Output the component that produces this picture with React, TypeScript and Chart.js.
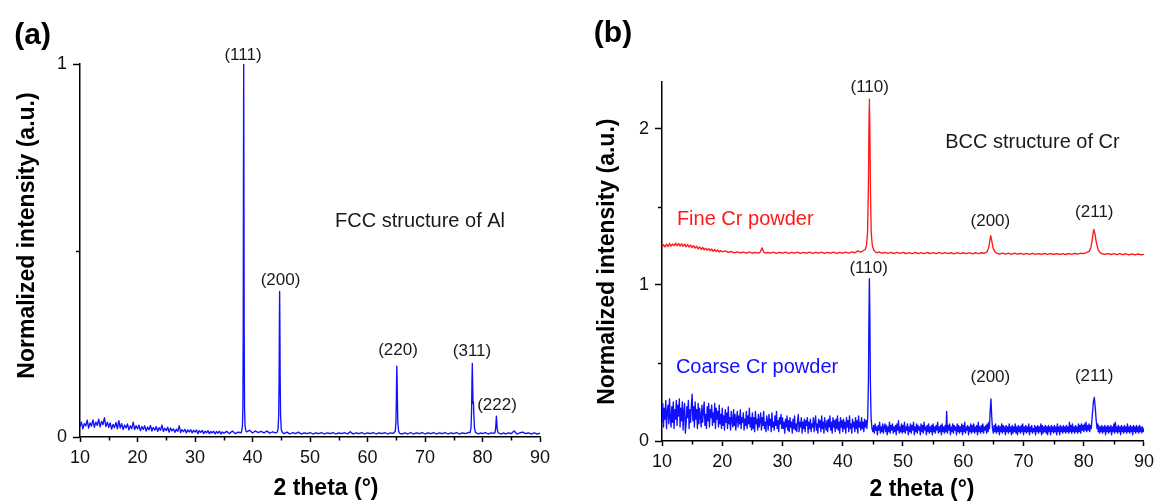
import React, { useEffect, useRef } from 'react';
import { Chart, registerables } from 'chart.js';

Chart.register(...registerables);

type Pt = [number, number];

const FONT = '"Liberation Sans", Arial, Helvetica, sans-serif';

// ---------------- DATA ----------------
const xMajorTicks = [10, 20, 30, 40, 50, 60, 70, 80, 90];
const xMinorTicks = [15, 25, 35, 45, 55, 65, 75, 85];
const alYTicks = [0, 1];
const alYMinor = [0.5];
const crYTicks = [0, 1, 2];
const crYMinor = [0.5, 1.5];

// (a) Al pattern: [2theta, normalized intensity]
const alPattern: Pt[] = [
  [10,.028],[10.25,.04],[10.5,.022],[10.75,.036],[11,.03],[11.25,.045],[11.5,.024],[11.75,.038],[12,.029],[12.25,.046],
  [12.5,.026],[12.75,.04],[13,.031],[13.25,.048],[13.5,.027],[13.75,.042],[14,.033],[14.25,.052],[14.5,.028],[14.75,.04],
  [15,.026],[15.25,.038],[15.5,.021],[15.75,.034],[16,.025],[16.25,.039],[16.5,.022],[16.75,.044],[17,.024],[17.25,.036],
  [17.5,.02],[17.75,.032],[18,.024],[18.25,.035],[18.5,.019],[18.75,.03],[19,.022],[19.25,.04],[19.5,.02],[19.75,.031],
  [20,.021],[20.25,.032],[20.5,.017],[20.75,.028],[21,.02],[21.25,.03],[21.5,.016],[21.75,.027],[22,.019],[22.25,.031],
  [22.5,.016],[22.75,.026],[23,.018],[23.25,.028],[23.5,.015],[23.75,.025],[24,.018],[24.25,.032],[24.5,.015],[24.75,.024],
  [25,.017],[25.25,.026],[25.5,.013],[25.75,.024],[26,.016],[26.25,.022],[26.5,.012],[26.75,.021],[27,.015],[27.25,.03],
  [27.5,.012],[27.75,.02],[28,.014],[28.25,.021],[28.5,.011],[28.75,.019],[29,.013],[29.25,.02],[29.5,.011],[29.75,.018],
  [30,.013],[30.25,.019],[30.5,.009],[30.75,.017],[31,.012],[31.25,.018],[31.5,.009],[31.75,.016],[32,.011],[32.25,.017],
  [32.5,.009],[32.75,.015],[33,.011],[33.25,.016],[33.5,.008],[33.75,.015],[34,.01],[34.25,.016],[34.5,.008],[34.75,.014],
  [35,.01],[35.5,.015],[36,.009],[36.5,.016],[37,.009],[37.5,.013],[38,.011],
  [38.12,.016],[38.25,.03],[38.33,.08],[38.39,.3],[38.43,.7],[38.47,1.0],[38.51,.7],[38.55,.3],[38.61,.08],[38.7,.03],[38.85,.016],
  [39,.014],[39.5,.018],[40,.011],[40.5,.016],[41,.012],[41.5,.015],[42,.011],[42.5,.016],[43,.01],[43.5,.014],[44,.011],[44.3,.013],
  [44.45,.022],[44.56,.06],[44.63,.16],[44.68,.31],[44.72,.39],[44.76,.31],[44.81,.16],[44.88,.06],[45.0,.02],
  [45.2,.012],[45.5,.009],[46,.013],[46.5,.008],[47,.012],[47.5,.009],[48,.013],[48.5,.008],[49,.011],[49.5,.009],
  [50,.012],[50.5,.008],[51,.011],[51.5,.009],[52,.012],[52.5,.008],[53,.011],[53.5,.009],[54,.012],[54.5,.008],
  [55,.011],[55.5,.009],[56,.012],[56.5,.008],[57,.014],[57.5,.008],[58,.011],[58.5,.009],[59,.012],[59.5,.008],
  [60,.011],[60.5,.009],[61,.012],[61.5,.008],[62,.011],[62.5,.009],[63,.012],[63.5,.008],[64,.011],[64.5,.01],
  [64.82,.015],[64.95,.04],[65.02,.1],[65.07,.16],[65.1,.19],[65.14,.16],[65.2,.1],[65.27,.04],[65.4,.016],
  [65.6,.01],[66,.008],[66.5,.011],[67,.008],[67.5,.012],[68,.008],[68.5,.011],[69,.009],[69.5,.012],[70,.008],
  [70.5,.011],[71,.009],[71.5,.012],[72,.008],[72.5,.011],[73,.009],[73.5,.012],[74,.008],[74.5,.011],[75,.009],
  [75.5,.012],[76,.008],[76.5,.011],[77,.009],[77.5,.012],[77.85,.012],
  [78.0,.025],[78.1,.07],[78.17,.15],[78.23,.197],[78.29,.14],[78.35,.09],[78.42,.095],[78.5,.06],[78.6,.025],[78.75,.013],
  [78.9,.011],[79.3,.008],[79.7,.011],[80,.009],[80.5,.012],[81,.008],[81.5,.011],[82,.01],[82.2,.013],
  [82.3,.025],[82.37,.045],[82.42,.056],[82.48,.042],[82.56,.022],[82.7,.012],
  [82.9,.01],[83.3,.008],[83.7,.011],[84,.008],[84.5,.011],[85,.009],[85.5,.016],[86,.008],[86.5,.011],[87,.013],
  [87.5,.009],[88,.011],[88.5,.008],[89,.011],[89.5,.008],[90,.01],
];

// (b) Fine Cr powder (offset pattern)
const fineCrPattern: Pt[] = [
  [10,1.24],[10.25,1.258],[10.5,1.243],[10.75,1.262],[11,1.245],[11.25,1.265],[11.5,1.248],[11.75,1.262],[12,1.25],[12.25,1.268],
  [12.5,1.25],[12.75,1.266],[13,1.248],[13.25,1.264],[13.5,1.246],[13.75,1.262],[14,1.244],[14.25,1.26],[14.5,1.242],[14.75,1.256],
  [15,1.238],[15.25,1.252],[15.5,1.235],[15.75,1.248],[16,1.23],[16.25,1.244],[16.5,1.227],[16.75,1.24],[17,1.224],[17.25,1.236],
  [17.5,1.221],[17.75,1.233],[18,1.218],[18.25,1.23],[18.5,1.215],[18.75,1.227],[19,1.213],[19.25,1.224],[19.5,1.211],[19.75,1.221],
  [20,1.212],[20.5,1.218],[21,1.208],[21.5,1.214],[22,1.206],[22.5,1.212],[23,1.205],[23.5,1.21],[24,1.204],[24.5,1.211],
  [25,1.203],[25.5,1.209],[26,1.204],[26.3,1.21],[26.6,1.238],[26.9,1.21],[27.2,1.204],[27.5,1.209],[28,1.203],[28.5,1.21],
  [29,1.202],[29.5,1.209],[30,1.203],[30.5,1.21],[31,1.202],[31.5,1.209],[32,1.203],[32.5,1.21],[33,1.202],[33.5,1.208],
  [34,1.203],[34.5,1.21],[35,1.202],[35.5,1.209],[36,1.203],[36.5,1.21],[37,1.202],[37.5,1.208],[38,1.203],[38.5,1.21],
  [39,1.202],[39.5,1.209],[40,1.203],[40.5,1.21],[41,1.204],[41.5,1.211],[42,1.206],[42.5,1.218],[43,1.21],[43.5,1.222],
  [43.75,1.228],[43.95,1.255],[44.12,1.34],[44.25,1.6],[44.35,2.0],[44.42,2.19],[44.5,2.0],[44.6,1.6],[44.72,1.34],[44.9,1.255],[45.15,1.222],
  [45.4,1.212],[45.7,1.206],[46,1.211],[46.5,1.203],[47,1.209],[47.5,1.202],[48,1.208],[48.5,1.201],[49,1.209],[49.5,1.202],
  [50,1.208],[50.5,1.201],[51,1.207],[51.5,1.2],[52,1.208],[52.5,1.201],[53,1.207],[53.5,1.2],[54,1.208],[54.5,1.201],
  [55,1.207],[55.5,1.2],[56,1.208],[56.5,1.2],[57,1.207],[57.5,1.2],[58,1.206],[58.5,1.199],[59,1.207],[59.5,1.2],
  [60,1.206],[60.5,1.2],[61,1.207],[61.5,1.199],[62,1.206],[62.5,1.2],[63,1.206],[63.5,1.203],[63.9,1.21],
  [64.2,1.235],[64.42,1.285],[64.55,1.315],[64.7,1.29],[64.95,1.235],[65.3,1.21],
  [65.6,1.203],[66,1.198],[66.5,1.204],[67,1.197],[67.5,1.203],[68,1.196],[68.5,1.203],[69,1.197],[69.5,1.202],[70,1.196],
  [70.5,1.202],[71,1.195],[71.5,1.202],[72,1.196],[72.5,1.201],[73,1.195],[73.5,1.202],[74,1.196],[74.5,1.201],[75,1.195],
  [75.5,1.201],[76,1.195],[76.5,1.2],[77,1.195],[77.5,1.201],[78,1.196],[78.5,1.202],[79,1.197],[79.5,1.203],[80,1.2],
  [80.5,1.208],[80.9,1.215],
  [81.2,1.24],[81.45,1.3],[81.65,1.355],[81.85,1.33],[82.1,1.27],[82.4,1.225],[82.7,1.208],
  [83,1.2],[83.5,1.196],[84,1.201],[84.5,1.195],[85,1.2],[85.5,1.194],[86,1.2],[86.5,1.194],[87,1.199],[87.5,1.193],
  [88,1.199],[88.5,1.193],[89,1.198],[89.5,1.193],[90,1.196],
];

// (b) Coarse Cr powder
const coarseCrPattern: Pt[] = [
  [10,.12],[10.125,.24],[10.25,.09],[10.375,.21],[10.5,.14],[10.625,.26],[10.75,.08],[10.875,.19],
  [11,.23],[11.125,.11],[11.25,.27],[11.375,.15],[11.5,.09],[11.625,.22],[11.75,.12],[11.875,.25],
  [12,.08],[12.125,.20],[12.25,.14],[12.375,.26],[12.5,.10],[12.625,.23],[12.75,.16],[12.875,.27],
  [13,.09],[13.125,.21],[13.25,.13],[13.375,.25],[13.5,.07],[13.625,.19],[13.75,.24],[13.875,.05],
  [14,.11],[14.125,.22],[14.25,.15],[14.375,.26],[14.5,.08],[14.625,.20],[14.75,.12],[14.875,.23],
  [15,.30],[15.125,.13],[15.25,.22],[15.375,.09],[15.5,.25],[15.625,.14],[15.75,.20],[15.875,.08],
  [16,.24],[16.125,.11],[16.25,.21],[16.375,.16],[16.5,.09],[16.625,.23],[16.75,.12],[16.875,.19],
  [17,.25],[17.125,.10],[17.25,.17],[17.375,.08],[17.5,.22],[17.625,.13],[17.75,.24],[17.875,.09],
  [18,.20],[18.125,.15],[18.25,.23],[18.375,.10],[18.5,.18],[18.625,.12],[18.75,.24],[18.875,.08],
  [19,.21],[19.125,.14],[19.25,.19],[19.375,.09],[19.5,.23],[19.625,.11],[19.75,.17],[19.875,.08],
  [20,.21],[20.125,.10],[20.25,.16],[20.375,.07],[20.5,.20],[20.625,.12],[20.75,.18],[20.875,.08],
  [21,.22],[21.125,.11],[21.25,.15],[21.375,.07],[21.5,.19],[21.625,.13],[21.75,.09],[21.875,.20],
  [22,.10],[22.125,.17],[22.25,.07],[22.375,.14],[22.5,.19],[22.625,.09],[22.75,.16],[22.875,.11],
  [23,.20],[23.125,.08],[23.25,.15],[23.375,.12],[23.5,.18],[23.625,.07],[23.75,.14],[23.875,.10],
  [24,.19],[24.125,.08],[24.25,.16],[24.375,.11],[24.5,.21],[24.625,.09],[24.75,.15],[24.875,.07],
  [25,.18],[25.125,.08],[25.25,.15],[25.375,.06],[25.5,.19],[25.625,.11],[25.75,.14],[25.875,.07],
  [26,.17],[26.125,.09],[26.25,.13],[26.375,.18],[26.5,.07],[26.625,.15],[26.75,.10],[26.875,.19],
  [27,.08],[27.125,.12],[27.25,.06],[27.375,.16],[27.5,.13],[27.625,.07],[27.75,.17],[27.875,.10],
  [28,.14],[28.125,.06],[28.25,.18],[28.375,.09],[28.5,.12],[28.625,.07],[28.75,.16],[28.875,.10],
  [29,.19],[29.125,.08],[29.25,.13],[29.375,.06],[29.5,.15],[29.625,.11],[29.75,.17],[29.875,.08],
  [30,.15],[30.125,.08],[30.25,.12],[30.375,.05],[30.5,.14],[30.625,.09],[30.75,.16],[30.875,.07],
  [31,.13],[31.125,.06],[31.25,.15],[31.375,.09],[31.5,.12],[31.625,.05],[31.75,.14],[31.875,.08],
  [32,.16],[32.125,.07],[32.25,.11],[32.375,.06],[32.5,.13],[32.625,.17],[32.75,.06],[32.875,.12],
  [33,.09],[33.125,.15],[33.25,.05],[33.375,.12],[33.5,.08],[33.625,.14],[33.75,.06],[33.875,.13],
  [34,.10],[34.125,.15],[34.25,.05],[34.375,.12],[34.5,.08],[34.625,.14],[34.75,.06],[34.875,.11],
  [35,.09],[35.125,.15],[35.25,.06],[35.375,.12],[35.5,.16],[35.625,.07],[35.75,.11],[35.875,.05],
  [36,.14],[36.125,.09],[36.25,.13],[36.375,.06],[36.5,.16],[36.625,.08],[36.75,.12],[36.875,.05],
  [37,.15],[37.125,.10],[37.25,.07],[37.375,.13],[37.5,.06],[37.625,.14],[37.75,.09],[37.875,.16],
  [38,.07],[38.125,.12],[38.25,.05],[38.375,.15],[38.5,.09],[38.625,.13],[38.75,.06],[38.875,.14],
  [39,.08],[39.125,.16],[39.25,.07],[39.375,.12],[39.5,.05],[39.625,.15],[39.75,.09],[39.875,.13],
  [40,.06],[40.125,.14],[40.25,.08],[40.375,.12],[40.5,.05],[40.625,.15],[40.75,.09],[40.875,.13],
  [41,.06],[41.125,.16],[41.25,.08],[41.375,.11],[41.5,.05],[41.625,.14],[41.75,.09],[41.875,.12],
  [42,.06],[42.125,.15],[42.25,.08],[42.375,.13],[42.5,.05],[42.625,.16],[42.75,.09],[42.875,.12],
  [43,.07],[43.125,.15],[43.25,.08],[43.375,.12],[43.5,.06],[43.625,.14],[43.75,.09],[43.875,.13],[44,.08],
  [44.15,.16],[44.27,.4],[44.35,.8],[44.42,1.04],[44.5,.8],[44.58,.4],[44.7,.15],[44.85,.08],
  [45,.06],[45.125,.10],[45.25,.05],[45.375,.11],[45.5,.07],[45.625,.09],[45.75,.04],[45.875,.10],
  [46,.07],[46.125,.12],[46.25,.05],[46.375,.09],[46.5,.06],[46.625,.11],[46.75,.05],[46.875,.09],
  [47,.11],[47.125,.06],[47.25,.10],[47.375,.04],[47.5,.09],[47.625,.06],[47.75,.12],[47.875,.05],
  [48,.10],[48.125,.07],[48.25,.11],[48.375,.05],[48.5,.09],[48.625,.06],[48.75,.10],[48.875,.04],
  [49,.11],[49.125,.07],[49.25,.13],[49.375,.05],[49.5,.09],[49.625,.06],[49.75,.11],[49.875,.05],
  [50,.10],[50.125,.06],[50.25,.12],[50.375,.05],[50.5,.09],[50.625,.07],[50.75,.11],[50.875,.04],
  [51,.09],[51.125,.06],[51.25,.11],[51.375,.05],[51.5,.10],[51.625,.07],[51.75,.12],[51.875,.04],
  [52,.09],[52.125,.06],[52.25,.11],[52.375,.05],[52.5,.10],[52.625,.07],[52.75,.09],[52.875,.04],
  [53,.11],[53.125,.06],[53.25,.10],[53.375,.05],[53.5,.12],[53.625,.07],[53.75,.09],[53.875,.04],
  [54,.10],[54.125,.06],[54.25,.11],[54.375,.05],[54.5,.09],[54.625,.06],[54.75,.10],[54.875,.04],
  [55,.11],[55.125,.06],[55.25,.09],[55.375,.05],[55.5,.10],[55.625,.07],[55.75,.12],[55.875,.05],
  [56,.09],[56.125,.06],[56.25,.10],[56.375,.04],[56.5,.11],[56.625,.06],[56.75,.09],[56.875,.05],
  [57,.10],[57.125,.06],[57.25,.19],[57.375,.05],[57.5,.10],[57.625,.07],[57.75,.11],[57.875,.04],
  [58,.09],[58.125,.06],[58.25,.11],[58.375,.05],[58.5,.10],[58.625,.07],[58.75,.09],[58.875,.04],
  [59,.11],[59.125,.06],[59.25,.10],[59.375,.05],[59.5,.09],[59.625,.06],[59.75,.11],[59.875,.04],
  [60,.10],[60.125,.06],[60.25,.12],[60.375,.05],[60.5,.09],[60.625,.07],[60.75,.10],[60.875,.04],
  [61,.09],[61.125,.06],[61.25,.11],[61.375,.05],[61.5,.10],[61.625,.06],[61.75,.11],[61.875,.05],
  [62,.09],[62.125,.06],[62.25,.10],[62.375,.04],[62.5,.12],[62.625,.06],[62.75,.09],[62.875,.05],
  [63,.10],[63.125,.06],[63.25,.11],[63.375,.05],[63.5,.09],[63.625,.07],[63.75,.10],[63.875,.05],
  [64,.11],[64.125,.06],[64.25,.12],[64.35,.08],
  [64.45,.18],[64.6,.27],[64.72,.16],[64.85,.08],
  [65,.05],[65.125,.10],[65.25,.06],[65.375,.11],[65.5,.05],[65.625,.09],[65.75,.06],[65.875,.10],
  [66,.04],[66.125,.09],[66.25,.06],[66.375,.11],[66.5,.05],[66.625,.10],[66.75,.06],[66.875,.09],
  [67,.04],[67.125,.10],[67.25,.06],[67.375,.09],[67.5,.05],[67.625,.11],[67.75,.06],[67.875,.09],
  [68,.04],[68.125,.10],[68.25,.05],[68.375,.09],[68.5,.06],[68.625,.11],[68.75,.05],[68.875,.09],
  [69,.04],[69.125,.10],[69.25,.06],[69.375,.09],[69.5,.05],[69.625,.10],[69.75,.06],[69.875,.11],
  [70,.04],[70.125,.09],[70.25,.06],[70.375,.10],[70.5,.05],[70.625,.09],[70.75,.06],[70.875,.11],
  [71,.04],[71.125,.09],[71.25,.06],[71.375,.10],[71.5,.05],[71.625,.08],[71.75,.06],[71.875,.10],
  [72,.04],[72.125,.09],[72.25,.06],[72.375,.10],[72.5,.05],[72.625,.09],[72.75,.06],[72.875,.11],
  [73,.04],[73.125,.10],[73.25,.05],[73.375,.09],[73.5,.06],[73.625,.10],[73.75,.05],[73.875,.09],
  [74,.04],[74.125,.10],[74.25,.06],[74.375,.09],[74.5,.04],[74.625,.10],[74.75,.06],[74.875,.09],
  [75,.05],[75.125,.10],[75.25,.06],[75.375,.09],[75.5,.04],[75.625,.11],[75.75,.06],[75.875,.09],
  [76,.04],[76.125,.10],[76.25,.06],[76.375,.09],[76.5,.05],[76.625,.10],[76.75,.06],[76.875,.09],
  [77,.05],[77.125,.10],[77.25,.06],[77.375,.09],[77.5,.05],[77.625,.12],[77.75,.06],[77.875,.10],
  [78,.05],[78.125,.11],[78.25,.06],[78.375,.09],[78.5,.05],[78.625,.10],[78.75,.06],[78.875,.09],
  [79,.05],[79.125,.11],[79.25,.06],[79.375,.10],[79.5,.05],[79.625,.11],[79.75,.07],[79.875,.10],
  [80,.06],[80.125,.11],[80.25,.07],[80.375,.12],[80.5,.06],[80.625,.10],[80.75,.07],[80.875,.11],
  [81,.06],[81.125,.10],[81.25,.08],[81.35,.13],
  [81.45,.18],[81.6,.25],[81.75,.28],[81.9,.22],[82.05,.14],[82.2,.08],
  [82.3,.11],[82.4,.06],[82.5,.10],[82.625,.05],[82.75,.09],[82.875,.06],[83,.10],[83.125,.05],
  [83.25,.09],[83.375,.06],[83.5,.10],[83.625,.04],[83.75,.09],[83.875,.06],[84,.10],[84.125,.05],
  [84.25,.09],[84.375,.06],[84.5,.10],[84.625,.04],[84.75,.09],[84.875,.06],
  [85,.11],[85.125,.05],[85.25,.12],[85.375,.06],[85.5,.09],[85.625,.05],[85.75,.10],[85.875,.06],
  [86,.09],[86.125,.04],[86.25,.10],[86.375,.06],[86.5,.09],[86.625,.05],[86.75,.10],[86.875,.06],
  [87,.09],[87.125,.05],[87.25,.11],[87.375,.06],[87.5,.09],[87.625,.05],[87.75,.10],[87.875,.06],
  [88,.09],[88.125,.04],[88.25,.10],[88.375,.06],[88.5,.09],[88.625,.05],[88.75,.10],[88.875,.06],
  [89,.09],[89.125,.05],[89.25,.10],[89.375,.06],[89.5,.09],[89.625,.05],[89.75,.09],[89.875,.06],[90,.08],
];

// Peak labels (text) and their anchors in data units
const alPeakLabels = ['(111)', '(200)', '(220)', '(311)', '(222)'];
const alPeakAnchors: Pt[] = [[38.35, 1.024], [44.87, 0.421], [65.3, 0.233], [78.17, 0.231], [82.52, 0.086]];
const fineCrPeakLabels = ['(110)', '(200)', '(211)'];
const fineCrPeakAnchors: Pt[] = [[44.47, 2.268], [64.5, 1.405], [81.75, 1.463]];
const coarseCrPeakLabels = ['(110)', '(200)', '(211)'];
const coarseCrPeakAnchors: Pt[] = [[44.3, 1.109], [64.5, 0.408], [81.72, 0.416]];

// ---------------- RENDERING ----------------
type TextItem = {
  text: string;
  x: number;
  y: number;
  data?: boolean;
  size: number;
  bold?: boolean;
  color?: string;
  align?: CanvasTextAlign;
  rotate?: boolean;
};

type PanelProps = {
  left: number;
  width: number;
  area: { left: number; top: number; right: number; bottom: number };
  yMax: number;
  yTicks: number[];
  yMinor: number[];
  series: { points: Pt[]; color: string }[];
  texts: TextItem[];
};

const H = 501;

function Panel({ left, width, area, yMax, yTicks, yMinor, series, texts }: PanelProps) {
  const ref = useRef<HTMLCanvasElement>(null);

  useEffect(() => {
    const canvas = ref.current;
    if (!canvas) return;

    const overlay = {
      id: 'overlay',
      afterDraw(chart: any) {
        const ctx: CanvasRenderingContext2D = chart.ctx;
        const xs = chart.scales.x;
        const ys = chart.scales.y;
        const ca = chart.chartArea;
        ctx.save();
        ctx.strokeStyle = '#000';
        ctx.lineWidth = 1.5;
        ctx.beginPath();
        xMinorTicks.forEach((v) => {
          const px = Math.round(xs.getPixelForValue(v)) + 0.5;
          ctx.moveTo(px, ca.bottom);
          ctx.lineTo(px, ca.bottom + 3.5);
        });
        yMinor.forEach((v) => {
          const py = Math.round(ys.getPixelForValue(v)) + 0.5;
          ctx.moveTo(ca.left, py);
          ctx.lineTo(ca.left - 4, py);
        });
        ctx.stroke();
        texts.forEach((t) => {
          const px = t.data ? xs.getPixelForValue(t.x) : t.x;
          const py = t.data ? ys.getPixelForValue(t.y) : t.y;
          ctx.font = `${t.bold ? 'bold ' : ''}${t.size}px ${FONT}`;
          ctx.fillStyle = t.color || '#1a1a1a';
          ctx.textAlign = t.align || 'center';
          ctx.textBaseline = 'middle';
          if (t.rotate) {
            ctx.save();
            ctx.translate(px, py);
            ctx.rotate(-Math.PI / 2);
            ctx.fillText(t.text, 0, 0);
            ctx.restore();
          } else {
            ctx.fillText(t.text, px, py);
          }
        });
        ctx.restore();
      },
    };

    const tickFont = { family: FONT, size: 18 };

    const chart = new Chart(canvas, {
      type: 'line',
      data: {
        datasets: series.map((s) => ({
          data: s.points as any,
          borderColor: s.color,
          borderWidth: 1.35,
          borderJoinStyle: 'round',
          pointRadius: 0,
          fill: false,
          tension: 0.0001,
        })),
      },
      options: {
        responsive: false,
        animation: false,
        events: [],
        layout: { padding: { left: 0, top: area.top, right: width - area.right, bottom: 0 } },
        plugins: {
          legend: { display: false },
          tooltip: { enabled: false },
          title: { display: false },
        },
        scales: {
          x: {
            type: 'linear',
            min: 10,
            max: 90,
            afterBuildTicks: (s: any) => {
              s.ticks = xMajorTicks.map((v) => ({ value: v }));
            },
            afterFit: (s: any) => {
              s.height = H - area.bottom;
            },
            ticks: {
              font: tickFont,
              color: '#111',
              padding: 5,
              maxRotation: 0,
              autoSkip: false,
              callback: (v: any) => String(v),
            },
            grid: {
              drawOnChartArea: false,
              drawTicks: true,
              tickLength: 5,
              tickWidth: 1.5,
              tickColor: '#000',
            },
            border: { display: true, color: '#000', width: 1.5 },
          },
          y: {
            type: 'linear',
            min: 0,
            max: yMax,
            afterBuildTicks: (s: any) => {
              s.ticks = yTicks.map((v) => ({ value: v }));
            },
            afterFit: (s: any) => {
              s.width = area.left;
            },
            ticks: {
              font: tickFont,
              color: '#111',
              padding: 6,
              autoSkip: false,
              callback: (v: any) => String(v),
            },
            grid: {
              drawOnChartArea: false,
              drawTicks: true,
              tickLength: 7,
              tickWidth: 1.5,
              tickColor: '#000',
            },
            border: { display: true, color: '#000', width: 1.5 },
          },
        },
      } as any,
      plugins: [overlay],
    });
    return () => chart.destroy();
  }, []);

  return (
    <canvas
      ref={ref}
      width={width}
      height={H}
      style={{ position: 'absolute', left, top: 0, width, height: H }}
    />
  );
}

const BLUE = '#1010ff';
const RED = '#ff1818';

export default function App() {
  const alTexts: TextItem[] = [
    { text: '(a)', x: 32.7, y: 36, size: 30, bold: true, color: '#000' },
    { text: '2 theta (°)', x: 326, y: 489, size: 23, bold: true, color: '#000' },
    { text: 'Normalized intensity (a.u.)', x: 27.5, y: 235.5, size: 23, bold: true, color: '#000', rotate: true },
    ...alPeakLabels.map((t, i) => ({ text: t, x: alPeakAnchors[i][0], y: alPeakAnchors[i][1], data: true, size: 17 })),
    { text: 'FCC structure of Al', x: 54.35, y: 0.577, data: true, size: 20, align: 'left' as CanvasTextAlign },
  ];
  const crTexts: TextItem[] = [
    { text: '(b)', x: 33, y: 34, size: 30, bold: true, color: '#000' },
    { text: '2 theta (°)', x: 342, y: 490, size: 23, bold: true, color: '#000' },
    { text: 'Normalized intensity (a.u.)', x: 28, y: 261.7, size: 23, bold: true, color: '#000', rotate: true },
    ...fineCrPeakLabels.map((t, i) => ({ text: t, x: fineCrPeakAnchors[i][0], y: fineCrPeakAnchors[i][1], data: true, size: 17 })),
    ...coarseCrPeakLabels.map((t, i) => ({ text: t, x: coarseCrPeakAnchors[i][0], y: coarseCrPeakAnchors[i][1], data: true, size: 17 })),
    { text: 'BCC structure of Cr', x: 57.0, y: 1.915, data: true, size: 20, align: 'left' as CanvasTextAlign },
    { text: 'Fine Cr powder', x: 12.47, y: 1.422, data: true, size: 20, align: 'left' as CanvasTextAlign, color: RED },
    { text: 'Coarse Cr powder', x: 12.31, y: 0.474, data: true, size: 20, align: 'left' as CanvasTextAlign, color: BLUE },
  ];

  return (
    <div style={{ position: 'fixed', left: 0, top: 0, width: 1159, height: H, background: '#fff', overflow: 'hidden' }}>
      <Panel
        left={0}
        width={580}
        area={{ left: 80, top: 64, right: 540, bottom: 437 }}
        yMax={1}
        yTicks={alYTicks}
        yMinor={alYMinor}
        series={[{ points: alPattern, color: BLUE }]}
        texts={alTexts}
      />
      <Panel
        left={580}
        width={579}
        area={{ left: 82, top: 82, right: 567, bottom: 441 }}
        yMax={2.3}
        yTicks={crYTicks}
        yMinor={crYMinor}
        series={[
          { points: fineCrPattern, color: RED },
          { points: coarseCrPattern, color: BLUE },
        ]}
        texts={crTexts}
      />
    </div>
  );
}
